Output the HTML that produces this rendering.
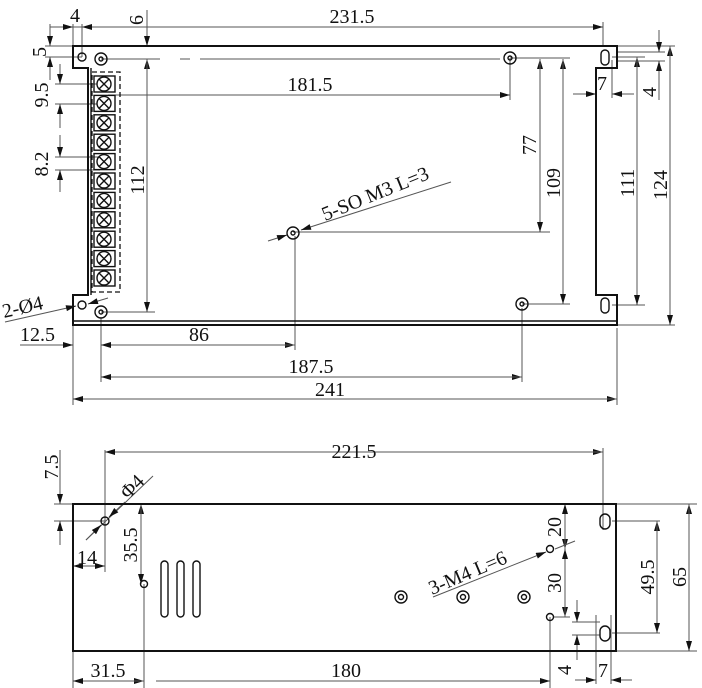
<!DOCTYPE html>
<html><head><meta charset="utf-8"><style>
html,body{margin:0;padding:0;background:#fff}
svg{display:block}
text{font-family:"Liberation Serif","Times New Roman",serif;font-size:20px;fill:#111}
</style></head><body>
<svg width="702" height="688" viewBox="0 0 702 688" xmlns="http://www.w3.org/2000/svg">
<defs>
<marker id="a" viewBox="0 0 10 6" refX="10" refY="3" markerWidth="11" markerHeight="6" orient="auto-start-reverse" markerUnits="userSpaceOnUse"><path d="M0,0L10,3L0,6z" fill="#111"/></marker>
</defs>
<g stroke="#555" stroke-width="1" fill="none">
<line x1="50" y1="27" x2="603" y2="27" marker-end="url(#a)"/>
<line x1="50" y1="27" x2="73" y2="27" marker-end="url(#a)"/>
<line x1="110" y1="27" x2="82" y2="27" marker-end="url(#a)"/>
<line x1="73" y1="24" x2="73" y2="46"/><line x1="82" y1="24" x2="82" y2="57"/>
<line x1="603" y1="22" x2="603" y2="46"/>
<line x1="147" y1="10" x2="147" y2="46" marker-end="url(#a)"/>
<line x1="147" y1="312" x2="147" y2="59" marker-end="url(#a)"/>
<line x1="147" y1="59" x2="147" y2="312" marker-end="url(#a)"/>
<line x1="101" y1="312" x2="155" y2="312"/>
<line x1="101" y1="59" x2="160" y2="59"/>
<line x1="180" y1="59" x2="190" y2="59"/><line x1="200" y1="59" x2="500" y2="59"/>
<line x1="50" y1="24" x2="50" y2="46" marker-end="url(#a)"/>
<line x1="50" y1="80" x2="50" y2="57" marker-end="url(#a)"/>
<line x1="45" y1="46" x2="73" y2="46"/><line x1="45" y1="57" x2="82" y2="57"/>
<line x1="60" y1="64" x2="60" y2="84" marker-end="url(#a)"/>
<line x1="60" y1="128" x2="60" y2="104" marker-end="url(#a)"/>
<line x1="55" y1="84" x2="104" y2="84"/><line x1="55" y1="104" x2="104" y2="104"/>
<line x1="60" y1="135" x2="60" y2="157" marker-end="url(#a)"/>
<line x1="60" y1="192" x2="60" y2="170" marker-end="url(#a)"/>
<line x1="55" y1="157" x2="100" y2="157"/><line x1="55" y1="170" x2="100" y2="170"/>
<line x1="108" y1="95" x2="510" y2="95" marker-end="url(#a)"/>
<line x1="510" y1="58" x2="510" y2="100"/>
<line x1="510" y1="58" x2="570" y2="58"/>
<line x1="522" y1="304" x2="570" y2="304"/>
<line x1="293" y1="232" x2="550" y2="232"/>
<line x1="540" y1="232" x2="540" y2="59" marker-end="url(#a)"/>
<line x1="540" y1="59" x2="540" y2="232" marker-end="url(#a)"/>
<line x1="563" y1="304" x2="563" y2="59" marker-end="url(#a)"/>
<line x1="563" y1="59" x2="563" y2="304" marker-end="url(#a)"/>
<line x1="612" y1="57" x2="645" y2="57"/>
<line x1="612" y1="305" x2="645" y2="305"/>
<line x1="637" y1="305" x2="637" y2="57" marker-end="url(#a)"/>
<line x1="637" y1="57" x2="637" y2="305" marker-end="url(#a)"/>
<line x1="618" y1="46" x2="675" y2="46"/><line x1="618" y1="325" x2="675" y2="325"/>
<line x1="670" y1="325" x2="670" y2="46" marker-end="url(#a)"/>
<line x1="670" y1="46" x2="670" y2="325" marker-end="url(#a)"/>
<line x1="618" y1="52" x2="665" y2="52"/><line x1="618" y1="61" x2="665" y2="61"/>
<line x1="659" y1="30" x2="659" y2="52" marker-end="url(#a)"/>
<line x1="659" y1="100" x2="659" y2="61" marker-end="url(#a)"/>
<line x1="573" y1="94" x2="596" y2="94" marker-end="url(#a)"/>
<line x1="634" y1="94" x2="612" y2="94" marker-end="url(#a)"/>
<line x1="612" y1="60" x2="612" y2="98"/>
<line x1="268" y1="241" x2="287" y2="235" marker-end="url(#a)"/>
<line x1="451" y1="182" x2="301" y2="230" marker-end="url(#a)"/>
<line x1="5" y1="322" x2="76" y2="306" marker-end="url(#a)"/>
<line x1="108" y1="298" x2="88" y2="304" marker-end="url(#a)"/>
<line x1="73" y1="325" x2="73" y2="405"/><line x1="101" y1="318" x2="101" y2="382"/>
<line x1="295" y1="236" x2="295" y2="350"/><line x1="522" y1="308" x2="522" y2="382"/>
<line x1="617" y1="328" x2="617" y2="405"/>
<line x1="20" y1="345" x2="73" y2="345" marker-end="url(#a)"/>
<line x1="101" y1="345" x2="295" y2="345" marker-end="url(#a)"/>
<line x1="295" y1="345" x2="101" y2="345" marker-end="url(#a)"/>
<line x1="101" y1="377" x2="522" y2="377" marker-end="url(#a)"/>
<line x1="522" y1="377" x2="101" y2="377" marker-end="url(#a)"/>
<line x1="73" y1="399" x2="617" y2="399" marker-end="url(#a)"/>
<line x1="617" y1="399" x2="73" y2="399" marker-end="url(#a)"/>

<line x1="105" y1="452" x2="603" y2="452" marker-end="url(#a)"/>
<line x1="603" y1="452" x2="105" y2="452" marker-end="url(#a)"/>
<line x1="105" y1="450" x2="105" y2="572"/><line x1="603" y1="448" x2="603" y2="530"/>
<line x1="60" y1="450" x2="60" y2="504" marker-end="url(#a)"/>
<line x1="60" y1="545" x2="60" y2="521" marker-end="url(#a)"/>
<line x1="54" y1="504" x2="73" y2="504"/><line x1="54" y1="521" x2="105" y2="521"/>
<line x1="86" y1="540" x2="153" y2="476"/>
<line x1="86" y1="540" x2="101" y2="525" marker-end="url(#a)"/>
<line x1="125" y1="502" x2="109" y2="517" marker-end="url(#a)"/>
<line x1="95" y1="566" x2="73" y2="566" marker-end="url(#a)"/>
<line x1="83" y1="566" x2="105" y2="566" marker-end="url(#a)"/>
<line x1="141" y1="584" x2="141" y2="504" marker-end="url(#a)"/>
<line x1="141" y1="504" x2="141" y2="584" marker-end="url(#a)"/>
<line x1="136" y1="504" x2="145" y2="504"/>
<line x1="144" y1="584" x2="144" y2="688"/><line x1="73" y1="651" x2="73" y2="688"/>
<line x1="73" y1="681" x2="144" y2="681" marker-end="url(#a)"/>
<line x1="144" y1="681" x2="73" y2="681" marker-end="url(#a)"/>
<line x1="156" y1="681" x2="550" y2="681" marker-end="url(#a)"/>
<line x1="550" y1="617" x2="550" y2="688"/>
<line x1="565" y1="504" x2="565" y2="549" marker-end="url(#a)"/>
<line x1="565" y1="549" x2="565" y2="504" marker-end="url(#a)"/>
<line x1="565" y1="549" x2="565" y2="617" marker-end="url(#a)"/>
<line x1="565" y1="617" x2="565" y2="549" marker-end="url(#a)"/>
<line x1="555" y1="549" x2="575" y2="541"/>
<line x1="553" y1="617" x2="570" y2="617"/>
<line x1="572" y1="622" x2="600" y2="622"/><line x1="572" y1="635" x2="600" y2="635"/>
<line x1="577" y1="600" x2="577" y2="622" marker-end="url(#a)"/>
<line x1="577" y1="660" x2="577" y2="635" marker-end="url(#a)"/>
<line x1="612" y1="521" x2="660" y2="521"/><line x1="612" y1="633" x2="660" y2="633"/>
<line x1="657" y1="633" x2="657" y2="521" marker-end="url(#a)"/>
<line x1="657" y1="521" x2="657" y2="633" marker-end="url(#a)"/>
<line x1="617" y1="504" x2="697" y2="504"/><line x1="617" y1="651" x2="697" y2="651"/>
<line x1="689" y1="651" x2="689" y2="504" marker-end="url(#a)"/>
<line x1="689" y1="504" x2="689" y2="651" marker-end="url(#a)"/>
<line x1="596" y1="615" x2="596" y2="684"/><line x1="611" y1="615" x2="611" y2="684"/>
<line x1="575" y1="680" x2="596" y2="680" marker-end="url(#a)"/>
<line x1="632" y1="680" x2="611" y2="680" marker-end="url(#a)"/>
<line x1="433" y1="597" x2="546" y2="552" marker-end="url(#a)"/>
</g>

<g stroke="#111" fill="none" stroke-width="2">
<path d="M73,46 H617 V68 H596 V295 H617 V325 H73 V295 H88 V68 H73 Z"/>
<line x1="91" y1="68" x2="91" y2="295" stroke-width="1.4"/>
<line x1="73" y1="321" x2="617" y2="321" stroke-width="1.6"/>
<rect x="92" y="72" width="28" height="220" stroke-dasharray="5,3" stroke-width="1.3"/>
</g>
<g stroke="#111" fill="none" stroke-width="1.4">
<g id="t"><rect x="94" y="76" width="21" height="16"/><circle cx="104" cy="84" r="7" fill="#fff"/><path d="M99,79 L109,89 M109,79 L99,89"/></g>
<use href="#t" y="19.4"/><use href="#t" y="38.8"/><use href="#t" y="58.2"/><use href="#t" y="77.6"/><use href="#t" y="97"/><use href="#t" y="116.4"/><use href="#t" y="135.8"/><use href="#t" y="155.2"/><use href="#t" y="174.6"/><use href="#t" y="194"/>
<circle cx="82" cy="57" r="4"/><circle cx="82" cy="305" r="4"/>
<circle cx="101" cy="59" r="6"/><circle cx="101" cy="59" r="2"/>
<circle cx="101" cy="312" r="6"/><circle cx="101" cy="312" r="2"/>
<circle cx="510" cy="58" r="6"/><circle cx="510" cy="58" r="2"/>
<circle cx="293" cy="233" r="6"/><circle cx="293" cy="233" r="2"/>
<circle cx="522" cy="304" r="6"/><circle cx="522" cy="304" r="2"/>
<rect x="601" y="50" width="8" height="15" rx="4"/>
<rect x="601" y="298" width="8" height="15" rx="4"/>
<rect x="73" y="504" width="543" height="147" stroke-width="2"/>
<circle cx="105" cy="521" r="4"/>
<circle cx="144" cy="584" r="3.5"/>
<rect x="161" y="561" width="7" height="56" rx="3.5"/>
<rect x="177" y="561" width="7" height="56" rx="3.5"/>
<rect x="193" y="561" width="7" height="56" rx="3.5"/>
<circle cx="401" cy="597" r="6"/><circle cx="401" cy="597" r="2.5"/>
<circle cx="463" cy="597" r="6"/><circle cx="463" cy="597" r="2.5"/>
<circle cx="524" cy="597" r="6"/><circle cx="524" cy="597" r="2.5"/>
<circle cx="550" cy="549" r="3.5"/><circle cx="550" cy="617" r="3.5"/>
<rect x="600" y="514" width="10" height="15" rx="5"/>
<rect x="600" y="626" width="10" height="15" rx="5"/>
</g>

<text x="70" y="22">4</text>
<text transform="translate(143,20) rotate(-90)" text-anchor="middle">6</text>
<text x="352" y="23" text-anchor="middle">231.5</text>
<text transform="translate(46,52) rotate(-90)" text-anchor="middle">5</text>
<text transform="translate(48,95) rotate(-90)" text-anchor="middle">9.5</text>
<text transform="translate(48,164) rotate(-90)" text-anchor="middle">8.2</text>
<text transform="translate(144,180) rotate(-90)" text-anchor="middle">112</text>
<text x="310" y="91" text-anchor="middle">181.5</text>
<text transform="translate(536,145) rotate(-90)" text-anchor="middle">77</text>
<text transform="translate(560,183) rotate(-90)" text-anchor="middle">109</text>
<text transform="translate(634,183) rotate(-90)" text-anchor="middle">111</text>
<text transform="translate(667,185) rotate(-90)" text-anchor="middle">124</text>
<text x="597" y="90">7</text>
<text transform="translate(656,92) rotate(-90)" text-anchor="middle">4</text>
<text transform="translate(325,221) rotate(-22)">5-SO M3 L=3</text>
<text transform="translate(4,318) rotate(-13)">2-Ø4</text>
<text x="20" y="341">12.5</text>
<text x="199" y="341" text-anchor="middle">86</text>
<text x="311" y="373" text-anchor="middle">187.5</text>
<text x="330" y="396" text-anchor="middle">241</text>
<text x="354" y="458" text-anchor="middle">221.5</text>
<text transform="translate(58,467) rotate(-90)" text-anchor="middle">7.5</text>
<text transform="translate(128,500) rotate(-45)">Φ4</text>
<text x="77" y="564">14</text>
<text transform="translate(137,545) rotate(-90)" text-anchor="middle">35.5</text>
<text x="108" y="677" text-anchor="middle">31.5</text>
<text x="346" y="677" text-anchor="middle">180</text>
<text transform="translate(432,595) rotate(-23)">3-M4 L=6</text>
<text transform="translate(561,527) rotate(-90)" text-anchor="middle">20</text>
<text transform="translate(561,583) rotate(-90)" text-anchor="middle">30</text>
<text transform="translate(571,670) rotate(-90)" text-anchor="middle">4</text>
<text x="598" y="677">7</text>
<text transform="translate(654,577) rotate(-90)" text-anchor="middle">49.5</text>
<text transform="translate(686,577) rotate(-90)" text-anchor="middle">65</text>
</svg>
</body></html>
